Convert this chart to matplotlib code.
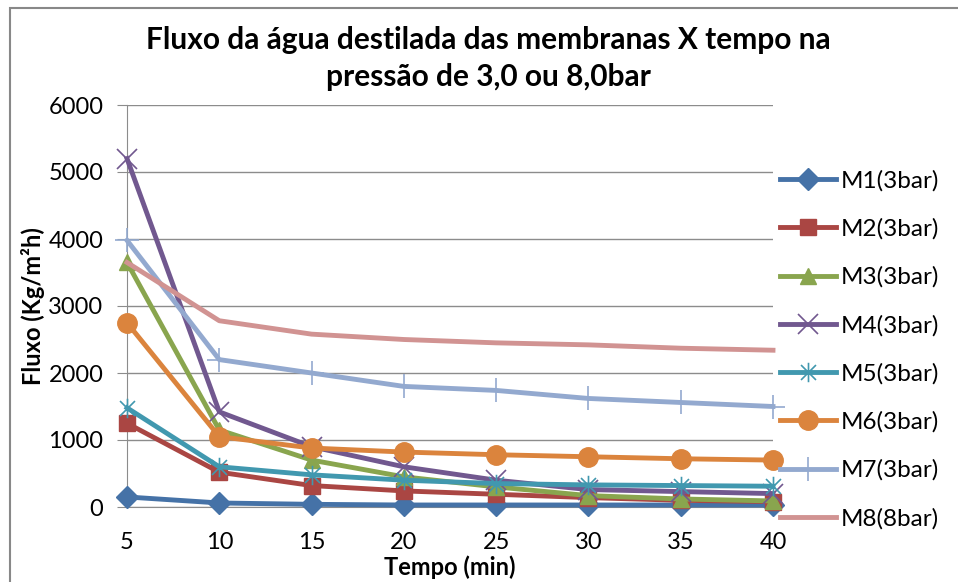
import matplotlib
matplotlib.use("Agg")
import matplotlib.pyplot as plt
from matplotlib.path import Path
from matplotlib.patches import Rectangle

plt.rcParams['font.family'] = ['Lato', 'DejaVu Sans']

tempo = [5, 10, 15, 20, 25, 30, 35, 40]
m1 = [150, 60, 40, 30, 30, 30, 30, 30]
m2 = [1250, 520, 320, 240, 190, 140, 100, 80]
m3 = [3650, 1150, 700, 450, 300, 170, 120, 90]
m4 = [5200, 1420, 900, 600, 400, 260, 230, 200]
m5 = [1480, 600, 480, 400, 350, 330, 320, 310]
m6 = [2750, 1050, 880, 820, 780, 750, 720, 700]
m7 = [3980, 2200, 2000, 1800, 1740, 1620, 1560, 1500]
m8 = [3650, 2780, 2580, 2500, 2450, 2420, 2370, 2340]
labels = ['M1(3bar)', 'M2(3bar)', 'M3(3bar)', 'M4(3bar)', 'M5(3bar)',
          'M6(3bar)', 'M7(3bar)', 'M8(8bar)']
series = [m1, m2, m3, m4, m5, m6, m7, m8]
yticks = [0, 1000, 2000, 3000, 4000, 5000, 6000]

colors = ['#4572A7', '#AA4643', '#89A54E', '#71588F', '#4198AF',
          '#DB843D', '#93A9CF', '#D19392']

# asterisk-like marker (x with vertical bar)
star = Path([(-1, -1), (1, 1), (-1, 1), (1, -1), (0, -1.3), (0, 1.3)],
            [Path.MOVETO, Path.LINETO, Path.MOVETO, Path.LINETO, Path.MOVETO, Path.LINETO])
markers = ['D', 's', '^', 'x', star, 'o', '+', None]
msizes = [11, 12, 12, 14, 14, 14, 17, 0]

fig = plt.figure(figsize=(9.58, 5.82), dpi=100)
ax = fig.add_axes([127/958, 1-507/582, (773-127)/958, (507-105)/582])

for s, lab, c, mk, ms in zip(series, labels, colors, markers, msizes):
    kw = dict(color=c, lw=3.5, label=lab, solid_joinstyle='round')
    if mk is not None:
        if mk in ('x', '+') or mk is star:
            kw.update(marker=mk, markersize=ms, markeredgecolor=c, markeredgewidth=1.2)
        else:
            kw.update(marker=mk, markersize=ms, markerfacecolor=c, markeredgecolor=c)
    ax.plot(tempo, s, clip_on=False, zorder=3, **kw)

ax.set_xlim(5, 40)
ax.set_ylim(0, 6000)
ax.set_xticks(tempo)
ax.set_yticks(yticks)
ax.grid(axis='y', color='#8c8c8c', lw=1)
ax.set_axisbelow(True)
for sp in ['top', 'right']:
    ax.spines[sp].set_visible(False)
ax.spines['left'].set_color('#8c8c8c')
ax.spines['bottom'].set_color('#8c8c8c')
ax.tick_params(axis='y', length=7, color='#8c8c8c', labelsize=17, pad=10)
ax.tick_params(axis='x', length=0, labelsize=17, pad=18)

ax.set_xlabel('Tempo (min)', fontsize=17, fontweight='bold', labelpad=2)
ax.set_ylabel('Fluxo (Kg/m²h)', fontsize=17, fontweight='bold', labelpad=2)

fig.text(0.51, 0.843, 'Fluxo da água destilada das membranas X tempo na\npressão de 3,0 ou 8,0bar',
         ha='center', va='bottom', fontsize=21.5, fontweight='bold', linespacing=1.4)

leg = fig.legend(loc='upper left', bbox_to_anchor=(780/958, 1-170/582), frameon=False,
                 fontsize=17.5, handlelength=2.3, labelspacing=1.1, handletextpad=0.2,
                 borderaxespad=0, borderpad=0)

fig.patches.append(Rectangle((10/958, -0.1), 1.2, 1.1 - 8/582, transform=fig.transFigure,
                             fill=False, edgecolor='#888888', lw=1.5))

fig.savefig('out.png', dpi=100)
